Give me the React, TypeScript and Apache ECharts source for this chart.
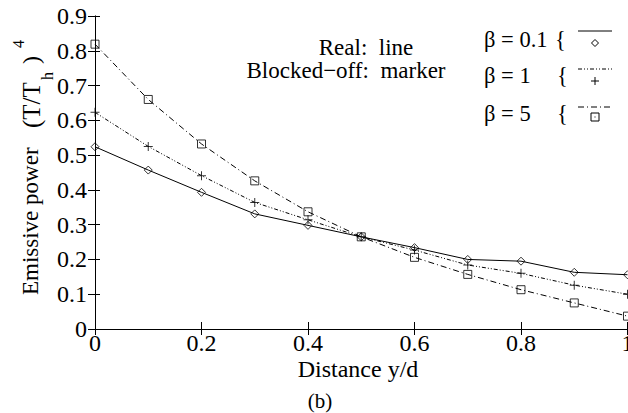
import React, { useEffect, useRef } from "react";
import * as echarts from "echarts";

const xValues = [0, 0.1, 0.2, 0.3, 0.4, 0.5, 0.6, 0.7, 0.8, 0.9, 1.0];
const beta01 = [0.524, 0.457, 0.393, 0.331, 0.298, 0.265, 0.234, 0.2, 0.195, 0.163, 0.156];
const beta1 = [0.623, 0.525, 0.441, 0.364, 0.314, 0.265, 0.227, 0.184, 0.16, 0.126, 0.1];
const beta5 = [0.819, 0.66, 0.532, 0.426, 0.337, 0.265, 0.206, 0.157, 0.113, 0.075, 0.037];

const xTickLabels = ["0", "0.2", "0.4", "0.6", "0.8", "1"];
const yTickLabels = ["0", "0.1", "0.2", "0.3", "0.4", "0.5", "0.6", "0.7", "0.8", "0.9"];

const seriesNames = ["β = 0.1", "β = 1", "β = 5"];

const FONT = "'Liberation Serif', 'Times New Roman', serif";
const PLUS = "path://M4.45,0H5.55V4.45H10V5.55H5.55V10H4.45V5.55H0V4.45H4.45Z";

const pairs = (ys: number[]) => xValues.map((x, i) => [x, ys[i]]);

export default function App() {
  const ref = useRef<HTMLDivElement>(null);
  useEffect(() => {
    if (!ref.current) return;
    const chart = echarts.init(ref.current, null, { renderer: "svg" });
    const dashes = [null, [4, 2, 1, 2, 1, 2], [6, 3, 1, 3]];
    const datas = [beta01, beta1, beta5];
    const symbols = ["diamond", PLUS, "rect"];
    const symSizes: any[] = [[8, 8], 9, 8];

    const lineSeries = datas.map((d, i) => ({
      type: "line",
      name: seriesNames[i],
      data: pairs(d),
      showSymbol: false,
      symbol: "none",
      lineStyle: { color: "#000", width: 1, type: dashes[i] ?? "solid" },
      z: 2,
    }));
    const markerSeries = datas.map((d, i) => ({
      type: "scatter",
      name: seriesNames[i] + " marker",
      data: pairs(d),
      symbol: symbols[i],
      symbolSize: symSizes[i],
      clip: false,
      itemStyle:
        i === 1
          ? { color: "#000" }
          : { color: "rgba(255,255,255,0)", borderColor: "#000", borderWidth: 1 },
      z: 3,
    }));

    const txt = (text: string, x: number, y: number, size: number, extra: any = {}) => ({
      type: "text",
      x,
      y,
      style: {
        text,
        fontFamily: FONT,
        fontSize: size,
        fill: "#000",
        textAlign: "left",
        textVerticalAlign: "middle",
        ...extra.style,
      },
      ...extra.el,
    });
    const rot = (text: string, x: number, y: number, size: number) =>
      txt(text, x, y, size, { el: { rotation: Math.PI / 2 } });

    const legendRows = [39, 75, 113];
    const sampleY = [31, 69, 107];
    const markerY = [43, 81, 117];
    const mx = 595;

    const graphic: any[] = [
      rot("Emissive power", 30, 295, 23),
      rot("(T/T", 31, 128, 25),
      rot("h", 47, 80, 16),
      rot(")", 31, 64, 24),
      rot("4", 18, 48, 16),
      txt("Distance y/d", 358, 369, 24, { style: { textAlign: "center" } }),
      txt("(b)", 320, 401, 21, { style: { textAlign: "center" } }),
      txt("Real:  line", 366, 47, 23, { style: { textAlign: "center" } }),
      txt("Blocked−off:  marker", 346, 70.5, 23, { style: { textAlign: "center" } }),
      txt(seriesNames[0], 484, legendRows[0], 22.5),
      txt(seriesNames[1], 484, legendRows[1], 22.5),
      txt(seriesNames[2], 484, legendRows[2], 22.5),
      txt("{", 555, legendRows[0], 22.5),
      txt("{", 557, legendRows[1], 22.5),
      txt("{", 557, legendRows[2], 22.5),
    ];
    sampleY.forEach((y, i) => {
      graphic.push({
        type: "line",
        shape: { x1: 578, y1: y, x2: 612, y2: y },
        style: { stroke: "#000", lineWidth: 1, lineDash: dashes[i] ?? undefined },
      });
    });
    graphic.push({
      type: "polygon",
      shape: { points: [[mx, markerY[0] - 3.5], [mx + 3.5, markerY[0]], [mx, markerY[0] + 3.5], [mx - 3.5, markerY[0]]] },
      style: { fill: "#fff", stroke: "#000", lineWidth: 1 },
    });
    graphic.push({ type: "line", shape: { x1: mx - 4, y1: markerY[1], x2: mx + 4, y2: markerY[1] }, style: { stroke: "#000", lineWidth: 1 } });
    graphic.push({ type: "line", shape: { x1: mx, y1: markerY[1] - 4, x2: mx, y2: markerY[1] + 4 }, style: { stroke: "#000", lineWidth: 1 } });
    graphic.push({ type: "rect", shape: { x: mx - 4, y: markerY[2] - 4, width: 8, height: 8 }, style: { fill: "#fff", stroke: "#000", lineWidth: 1 } });
    graphic.push({ type: "rect", shape: { x: mx - 0.5, y: markerY[2] - 0.5, width: 1, height: 1 }, style: { fill: "#000" } });

    const axisLabelStyle = { fontFamily: FONT, fontSize: 24, color: "#000" };

    chart.setOption({
      animation: false,
      backgroundColor: "#fff",
      grid: { left: 95, top: 16, width: 532.5, height: 313, outerBoundsMode: "none", containLabel: false },
      xAxis: [
        {
          type: "value",
          position: "bottom",
          min: 0,
          max: 1,
          interval: 0.2,
          axisLine: { show: true, lineStyle: { color: "#000", width: 1 } },
          axisTick: { show: true, inside: true, length: 7, lineStyle: { color: "#000" } },
          splitLine: { show: false },
          axisLabel: {
            ...axisLabelStyle,
            margin: 2,
            formatter: (v: number) => xTickLabels[Math.round(v / 0.2)] ?? "",
          },
        },
        {
          type: "value",
          position: "top",
          min: 0,
          max: 1,
          interval: 0.2,
          axisLine: { show: true, lineStyle: { color: "#000", width: 1 } },
          axisTick: { show: true, inside: true, length: 6, lineStyle: { color: "#000" } },
          splitLine: { show: false },
          axisLabel: { show: false },
        },
      ],
      yAxis: [
        {
          type: "value",
          position: "left",
          min: 0,
          max: 0.9,
          interval: 0.1,
          axisLine: { show: true, lineStyle: { color: "#555", width: 1 } },
          axisTick: { show: true, inside: true, length: 5, lineStyle: { color: "#000" } },
          splitLine: { show: false },
          axisLabel: {
            ...axisLabelStyle,
            margin: 8,
            formatter: (v: number) => yTickLabels[Math.round(v / 0.1)] ?? "",
          },
        },
        {
          type: "value",
          position: "right",
          min: 0,
          max: 0.9,
          interval: 0.1,
          axisLine: { show: true, lineStyle: { color: "#000", width: 1 } },
          axisTick: { show: true, inside: true, length: 7, lineStyle: { color: "#000" } },
          splitLine: { show: false },
          axisLabel: { show: false },
        },
      ],
      series: [...lineSeries, ...markerSeries],
      graphic,
    });
    return () => chart.dispose();
  }, []);
  return (
    <div
      ref={ref}
      style={{ position: "fixed", left: 0, top: 0, width: 628, height: 413, background: "#fff" }}
    />
  );
}
